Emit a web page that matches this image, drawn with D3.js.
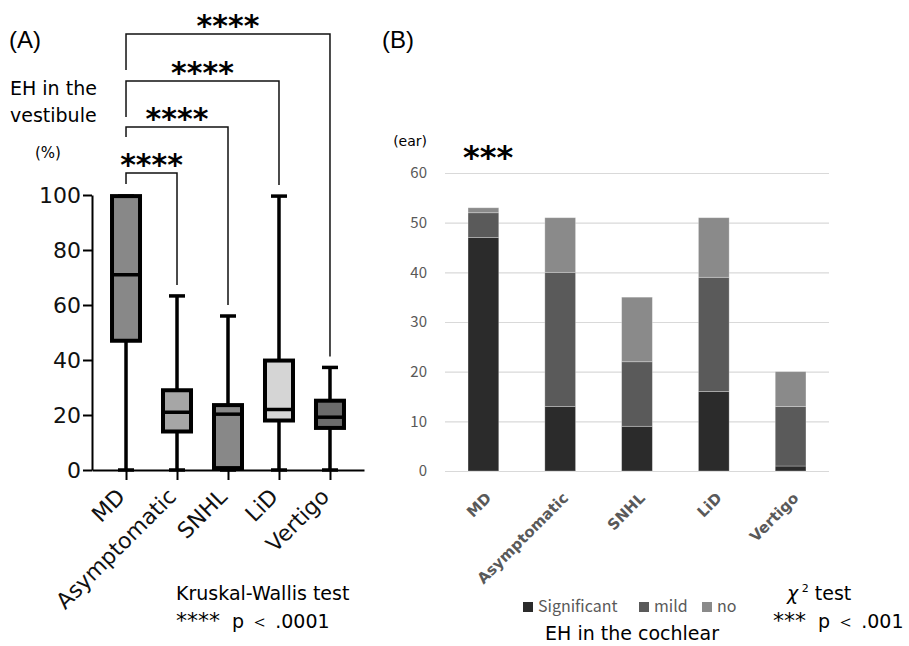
<!DOCTYPE html>
<html>
<head>
<meta charset="utf-8">
<script src="https://cdn.jsdelivr.net/npm/d3@7"></script>
<style>
  body { margin: 0; background: #fff; }
  svg { display: block; }
</style>
</head>
<body>
<svg id="chart" width="909" height="646"></svg>
<script>
// ---- data: panel A (box plots, EH in the vestibule %) ----
const groups = ["MD", "Asymptomatic", "SNHL", "LiD", "Vertigo"];
const boxMin = [0, 0, 0, 0, 0];
const boxQ1 = [47, 14, 0.7, 18, 15.3];
const boxMedian = [71, 21, 20.3, 22, 19.2];
const boxQ3 = [99.6, 29, 23.6, 39.8, 25.2];
const boxMax = [99.6, 63.3, 56, 99.6, 37.3];
const boxFill = ["#888888", "#a6a6a6", "#888888", "#d5d5d5", "#6b6b6b"];
const yTicksA = [0, 20, 40, 60, 80, 100];
// pairwise comparisons against MD
const compareTo = ["Asymptomatic", "SNHL", "LiD", "Vertigo"];
const compareLabel = ["****", "****", "****", "****"];

// ---- data: panel B (stacked bars, EH in the cochlear, ears) ----
const significant = [47, 13, 9, 16, 1];
const mild = [5, 27, 13, 23, 12];
const none = [1, 11, 13, 12, 7];
const seriesKeys = ["Significant", "mild", "no"];
const seriesColors = ["#2b2b2b", "#5a5a5a", "#8a8a8a"];
const yTicksB = [0, 10, 20, 30, 40, 50, 60];

const svg = d3.select("#chart");
const gray = "#595959";
const sans = "DejaVu Sans, sans-serif";
const jp = "Noto Sans CJK JP, sans-serif";

// small helper for "stars  p < value" lines
const addPLine = (parent, x, y, stars, rest) => {
  const t = parent.append("text")
    .attr("x", x).attr("y", y)
    .attr("xml:space", "preserve")
    .style("font-family", sans)
    .style("font-size", "19px");
  t.append("tspan").style("font-size", "22px").style("letter-spacing", "0px").text(stars);
  t.append("tspan").text(rest);
  return t;
};

// ================= Panel A =================
const xA = d3.scalePoint().domain(groups).range([92, 364]).padding(0.667);
const yA = d3.scaleLinear().domain([0, 100]).range([470, 195]);

const panelA = svg.append("g").attr("class", "panel-a");

panelA.append("text")
  .attr("x", 9).attr("y", 48)
  .style("font-family", "Liberation Sans, Arial, sans-serif")
  .style("font-size", "24px")
  .text("(A)");

panelA.append("text")
  .attr("x", 10).attr("y", 95)
  .style("font-family", sans)
  .style("font-size", "19px")
  .text("EH in the");
panelA.append("text")
  .attr("x", 10).attr("y", 122)
  .style("font-family", sans)
  .style("font-size", "19px")
  .text("vestibule");
panelA.append("text")
  .attr("x", 35).attr("y", 158)
  .style("font-family", sans)
  .style("font-size", "15px")
  .text("(%)");

const yAxisA = panelA.append("g")
  .attr("transform", "translate(92,0)")
  .call(d3.axisLeft(yA).tickValues(yTicksA).tickSize(9).tickSizeOuter(0).tickPadding(2));
yAxisA.select(".domain").attr("stroke", "#000").attr("stroke-width", 2);
yAxisA.selectAll(".tick line").attr("stroke", "#000").attr("stroke-width", 2);
yAxisA.selectAll(".tick text")
  .style("font-family", sans)
  .style("font-size", "22px")
  .attr("fill", "#111");

const xAxisA = panelA.append("g")
  .attr("transform", "translate(0,470)")
  .call(d3.axisBottom(xA).tickSize(10).tickSizeOuter(0));
xAxisA.select(".domain").attr("stroke", "#000").attr("stroke-width", 2);
xAxisA.selectAll(".tick line").attr("stroke", "#000").attr("stroke-width", 2);
xAxisA.selectAll(".tick text")
  .attr("text-anchor", "end")
  .attr("x", 0).attr("y", 0).attr("dy", 0)
  .attr("transform", "translate(0,28) rotate(-45)")
  .style("font-family", sans)
  .style("font-size", "22px")
  .attr("fill", "#111");

const boxWidth = 28;
const capWidth = 16;
const boxes = panelA.append("g").attr("class", "boxes");
groups.forEach((g, i) => {
  const cx = xA(g);
  const b = boxes.append("g");
  // whisker
  b.append("line")
    .attr("x1", cx).attr("x2", cx)
    .attr("y1", yA(boxMax[i])).attr("y2", yA(boxMin[i]))
    .attr("stroke", "#000").attr("stroke-width", 3.5);
  [boxMin[i], boxMax[i]].forEach(v => {
    b.append("line")
      .attr("x1", cx - capWidth / 2).attr("x2", cx + capWidth / 2)
      .attr("y1", yA(v)).attr("y2", yA(v))
      .attr("stroke", "#000").attr("stroke-width", 3.5);
  });
  b.append("rect")
    .attr("x", cx - boxWidth / 2)
    .attr("y", yA(boxQ3[i]))
    .attr("width", boxWidth)
    .attr("height", yA(boxQ1[i]) - yA(boxQ3[i]))
    .attr("fill", boxFill[i])
    .attr("stroke", "#000").attr("stroke-width", 4);
  b.append("line")
    .attr("x1", cx - boxWidth / 2).attr("x2", cx + boxWidth / 2)
    .attr("y1", yA(boxMedian[i])).attr("y2", yA(boxMedian[i]))
    .attr("stroke", "#000").attr("stroke-width", 3.5);
});

// significance brackets
const bracketTops = [173, 127, 81, 34];
const bracketDrops = [11, 10, 36, 36];
const brackets = panelA.append("g").attr("class", "brackets");
compareTo.forEach((g, i) => {
  const x1 = xA("MD");
  const x2 = xA(g);
  const top = bracketTops[i];
  const yEnd = yA(boxMax[groups.indexOf(g)]) - 11;
  brackets.append("path")
    .attr("d", `M${x1},${top + bracketDrops[i]} V${top} H${x2} V${yEnd}`)
    .attr("fill", "none")
    .attr("stroke", "#111").attr("stroke-width", 1.5);
  brackets.append("text")
    .attr("x", (x1 + x2) / 2)
    .attr("y", top + 2)
    .attr("text-anchor", "middle")
    .style("font-family", sans)
    .style("font-weight", 700)
    .style("font-size", "30px")
    .text(compareLabel[i]);
});

panelA.append("text")
  .attr("x", 176).attr("y", 600)
  .style("font-family", sans)
  .style("font-size", "19px")
  .text("Kruskal-Wallis test");
addPLine(panelA, 176, 628, "****", "  p ＜ .0001");

// ================= Panel B =================
const xB = d3.scaleBand().domain(groups).range([445, 829]).paddingInner(0.6).paddingOuter(0.3);
const yB = d3.scaleLinear().domain([0, 60]).range([471, 173]);

const panelB = svg.append("g").attr("class", "panel-b");

panelB.append("text")
  .attr("x", 382).attr("y", 48)
  .style("font-family", "Liberation Sans, Arial, sans-serif")
  .style("font-size", "24px")
  .text("(B)");

panelB.append("text")
  .attr("x", 427).attr("y", 146)
  .attr("text-anchor", "end")
  .style("font-family", sans)
  .style("font-size", "14px")
  .text("(ear)");

panelB.append("text")
  .attr("x", 463).attr("y", 168)
  .style("font-family", sans)
  .style("font-weight", 700)
  .style("font-size", "32px")
  .text("***");

const yAxisB = panelB.append("g")
  .attr("transform", "translate(445,0)")
  .call(d3.axisLeft(yB).tickValues(yTicksB).tickSize(-384).tickSizeOuter(0).tickPadding(18));
yAxisB.select(".domain").remove();
yAxisB.selectAll(".tick line").attr("stroke", "#d9d9d9").attr("stroke-width", 1.2);
yAxisB.selectAll(".tick text")
  .style("font-family", jp)
  .style("font-size", "15px")
  .attr("fill", gray);

const tableB = groups.map((g, i) => ({
  group: g, Significant: significant[i], mild: mild[i], no: none[i]
}));
const stacked = d3.stack().keys(seriesKeys)(tableB);

panelB.append("g").attr("class", "bars")
  .selectAll("g")
  .data(stacked)
  .join("g")
    .attr("fill", (d, i) => seriesColors[i])
  .selectAll("rect")
  .data(d => d)
  .join("rect")
    .attr("x", d => xB(d.data.group))
    .attr("y", d => yB(d[1]))
    .attr("width", xB.bandwidth())
    .attr("height", d => yB(d[0]) - yB(d[1]))
    .attr("stroke", "#ffffff")
    .attr("stroke-opacity", 0.35)
    .attr("stroke-width", 0.8);

panelB.append("g").attr("class", "x-labels")
  .selectAll("text")
  .data(groups)
  .join("text")
    .attr("transform", d => `translate(${xB(d) + xB.bandwidth() / 2 + 9},499) rotate(-45)`)
    .attr("text-anchor", "end")
    .style("font-family", sans)
    .style("font-weight", 700)
    .style("font-size", "15px")
    .attr("fill", gray)
    .text(d => d);

// legend
const legendX = [523, 639, 702];
const legend = panelB.append("g").attr("class", "legend");
seriesKeys.forEach((k, i) => {
  legend.append("rect")
    .attr("x", legendX[i]).attr("y", 602)
    .attr("width", 10).attr("height", 10)
    .attr("fill", seriesColors[i]);
  legend.append("text")
    .attr("x", legendX[i] + 15).attr("y", 612)
    .style("font-family", jp)
    .style("font-size", "16px")
    .attr("fill", gray)
    .text(k);
});

panelB.append("text")
  .attr("x", 632).attr("y", 640)
  .attr("text-anchor", "middle")
  .style("font-family", sans)
  .style("font-size", "19px")
  .text("EH in the cochlear");

const chi = panelB.append("text")
  .attr("x", 787).attr("y", 600)
  .attr("xml:space", "preserve")
  .style("font-family", sans)
  .style("font-size", "19px");
chi.append("tspan").style("font-style", "italic").text("χ");
chi.append("tspan").attr("dy", -8).style("font-size", "11px").text(" 2");
chi.append("tspan").attr("dy", 8).text(" test");

addPLine(panelB, 773, 628, "***", "  p ＜ .001");
</script>
</body>
</html>
